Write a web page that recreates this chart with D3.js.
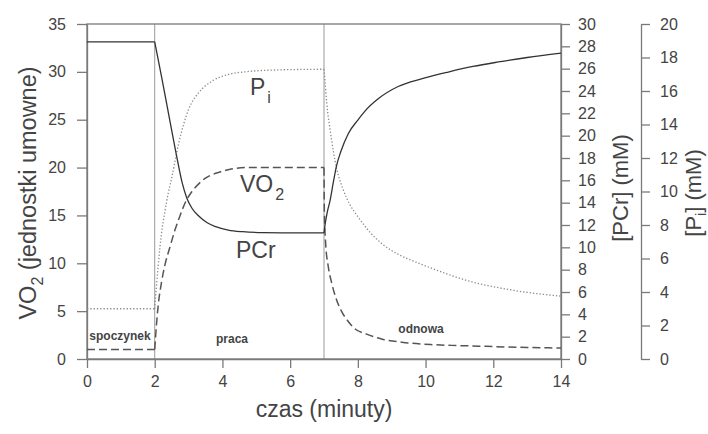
<!DOCTYPE html>
<html>
<head>
<meta charset="utf-8">
<script src="https://cdn.jsdelivr.net/npm/d3@7"></script>
<style>
	body { margin: 0; background: #fff; }
	svg { font-family: 'Liberation Sans', Arial, sans-serif; }
</style>
</head>
<body>
<div id="chart"></div>
<script>
// time (minutes) and values
var timePCr = [0, 2, 2.2, 2.45, 2.62, 2.81, 2.95, 3.1, 3.3, 3.55, 3.8, 4.17, 4.6, 5.2, 6, 7, 7.04, 7.1, 7.18, 7.28, 7.37, 7.5, 7.72, 8.0, 8.21, 8.6, 9.19, 9.9, 10.67, 11.4, 12.15, 13, 14];
var valPCr  = [28.4, 28.4, 25.3, 21.3, 18.6, 15.8, 14.4, 13.5, 12.8, 12.2, 11.85, 11.55, 11.4, 11.32, 11.3, 11.3, 12.2, 13.2, 14.2, 15.9, 17.3, 18.6, 20.2, 21.4, 22.2, 23.3, 24.4, 25.1, 25.7, 26.2, 26.6, 27.0, 27.4];

var timeVO2 = [0, 2, 2.05, 2.1, 2.2, 2.3, 2.45, 2.6, 2.75, 2.91, 3.1, 3.3, 3.5, 3.8, 4.2, 4.7, 5.5, 7, 7.01, 7.05, 7.12, 7.23, 7.35, 7.5, 7.7, 7.9, 8.26, 8.7, 9.3, 10.2, 11, 12, 13, 14];
var valVO2  = [1, 1, 3.5, 5.5, 8.0, 9.8, 11.7, 13.5, 15.0, 16.4, 17.5, 18.3, 18.9, 19.4, 19.8, 20, 20, 20, 15.5, 12, 9.8, 7.9, 6.4, 5.1, 4.0, 3.2, 2.6, 2.1, 1.75, 1.5, 1.4, 1.3, 1.2, 1.15];

var timePi = [0, 2, 2.05, 2.1, 2.2, 2.3, 2.4, 2.5, 2.7, 3.0, 3.3, 3.7, 4.2, 4.7, 5.5, 7, 7.03, 7.08, 7.18, 7.37, 7.55, 7.77, 8.0, 8.26, 8.7, 9.24, 9.7, 10.2, 11.2, 12.6, 14];
var valPi  = [3.0, 3.0, 4.3, 5.5, 7.5, 8.8, 9.9, 10.8, 12.8, 14.9, 15.9, 16.6, 17.0, 17.15, 17.25, 17.3, 16.6, 15.3, 13.7, 11.4, 10.2, 9.2, 8.5, 7.8, 6.9, 6.2, 5.8, 5.4, 4.7, 4.1, 3.75];

var phaseTimes = [2, 7];
var phaseLabels = ["spoczynek", "praca", "odnowa"];

var ticksX   = [0, 2, 4, 6, 8, 10, 12, 14];
var ticksVO2 = [0, 5, 10, 15, 20, 25, 30, 35];
var ticksPCr = [0, 2, 4, 6, 8, 10, 12, 14, 16, 18, 20, 22, 24, 26, 28, 30];
var ticksPi  = [0, 2, 4, 6, 8, 10, 12, 14, 16, 18, 20];

(function(){
	'use strict';

	var W = 708, H = 434;
	var left = 87, right = 561, top = 24, bottom = 359;
	var axisCol = "#7a7a7a", textCol = "#444";

	var svg = d3.select("#chart").append("svg").attr("width", W).attr("height", H);

	var x = d3.scaleLinear().domain([0, 14]).range([left, right]);
	var yVO2 = d3.scaleLinear().domain([0, 35]).range([bottom, top]);
	var yPCr = d3.scaleLinear().domain([0, 30]).range([bottom, top]);
	var yPi  = d3.scaleLinear().domain([0, 20]).range([bottom, top]);

	function zip(t, v) {
		return t.map(function(d, i) { return [d, v[i]]; });
	}

	// cut a series into rest / work / recovery pieces so the corners stay sharp
	function splitPhases(pts) {
		var bounds = [0].concat(phaseTimes, [14]);
		var parts = [];
		for (var k = 0; k < bounds.length - 1; ++k) {
			parts.push(pts.filter(function(p) { return p[0] >= bounds[k] && p[0] <= bounds[k + 1]; }));
		}
		return parts;
	}

	function styleAxis(g) {
		g.selectAll("path, line").attr("stroke", axisCol).attr("stroke-width", 1.3);
		g.selectAll("text").attr("fill", textCol).attr("font-size", "16px");
	}

	// phase dividers
	svg.selectAll("line.phase").data(phaseTimes).enter()
		.append("line").attr("class", "phase")
		.attr("x1", function(d) { return x(d); }).attr("x2", function(d) { return x(d); })
		.attr("y1", top).attr("y2", bottom)
		.attr("stroke", "#9a9a9a").attr("stroke-width", 1);

	// frame
	svg.append("rect").attr("x", left).attr("y", top)
		.attr("width", right - left).attr("height", bottom - top)
		.attr("fill", "none").attr("stroke", axisCol).attr("stroke-width", 1.3);

	// axes
	svg.append("g").attr("transform", "translate(0," + bottom + ")")
		.call(d3.axisBottom(x).tickValues(ticksX).tickSize(9).tickSizeOuter(0).tickPadding(8))
		.call(styleAxis);
	svg.append("g").attr("transform", "translate(" + left + ",0)")
		.call(d3.axisLeft(yVO2).tickValues(ticksVO2).tickSize(10).tickSizeOuter(0).tickPadding(11))
		.call(styleAxis);
	svg.append("g").attr("transform", "translate(" + right + ",0)")
		.call(d3.axisRight(yPCr).tickValues(ticksPCr).tickSize(9).tickSizeOuter(0).tickPadding(8))
		.call(styleAxis);
	svg.append("g").attr("transform", "translate(641,0)")
		.call(d3.axisRight(yPi).tickValues(ticksPi).tickSize(9).tickSizeOuter(0).tickPadding(10))
		.call(styleAxis);
	svg.selectAll(".domain").attr("stroke", axisCol);

	// curves
	function drawCurve(t, v, y, dash, col, w) {
		var line = d3.line()
			.x(function(d) { return x(d[0]); })
			.y(function(d) { return y(d[1]); })
			.curve(d3.curveMonotoneX);
		svg.append("g").selectAll("path").data(splitPhases(zip(t, v))).enter()
			.append("path")
			.attr("d", line)
			.attr("fill", "none")
			.attr("stroke", col)
			.attr("stroke-width", w)
			.attr("stroke-dasharray", dash);
	}
	drawCurve(timePi, valPi, yPi, "1.3,2", "#8a8a8a", 1.3);
	drawCurve(timeVO2, valVO2, yVO2, "8,4", "#555", 1.5);
	drawCurve(timePCr, valPCr, yPCr, null, "#333", 1.3);

	// curve labels
	function subLabel(px, py, main, sub, dy) {
		var t = svg.append("text").attr("x", px).attr("y", py)
			.attr("font-size", "23px").attr("fill", textCol);
		t.append("tspan").text(main);
		if (sub) {
			t.append("tspan").text(sub).attr("font-size", "16px").attr("dy", dy).attr("dx", 2);
		}
		return t;
	}
	subLabel(250, 95, "P", "i", 8);
	subLabel(240, 192, "VO", "2", 8);
	subLabel(236, 258, "PCr", null, 0);

	// phase labels
	var phaseX = [120, 232, 421];
	var phaseY = [340, 343, 333];
	svg.selectAll("text.phaselbl").data(phaseLabels).enter()
		.append("text").attr("class", "phaselbl")
		.attr("x", function(d, i) { return phaseX[i]; })
		.attr("y", function(d, i) { return phaseY[i]; })
		.attr("text-anchor", "middle")
		.attr("font-size", "12px").attr("font-weight", "bold")
		.attr("fill", "#444")
		.text(function(d) { return d; });

	// axis titles
	svg.append("text").attr("x", (left + right) / 2).attr("y", 417)
		.attr("text-anchor", "middle").attr("font-size", "23px").attr("fill", textCol)
		.text("czas (minuty)");

	var yl = svg.append("text")
		.attr("transform", "translate(36," + 193 + ") rotate(-90)")
		.attr("text-anchor", "middle").attr("font-size", "23.5px").attr("fill", textCol);
	yl.append("tspan").text("VO");
	yl.append("tspan").text("2").attr("font-size", "16px").attr("dy", 7);
	yl.append("tspan").text(" (jednostki umowne)").attr("dy", -7);

	svg.append("text")
		.attr("transform", "translate(628,188) rotate(-90)")
		.attr("text-anchor", "middle").attr("font-size", "22px").attr("fill", textCol)
		.text("[PCr] (mM)");

	var pl = svg.append("text")
		.attr("transform", "translate(701,193) rotate(-90)")
		.attr("text-anchor", "middle").attr("font-size", "22px").attr("fill", textCol);
	pl.append("tspan").text("[P");
	pl.append("tspan").text("i").attr("font-size", "14px").attr("dy", 5);
	pl.append("tspan").text("] (mM)").attr("dy", -5);
})();
</script>
</body>
</html>
